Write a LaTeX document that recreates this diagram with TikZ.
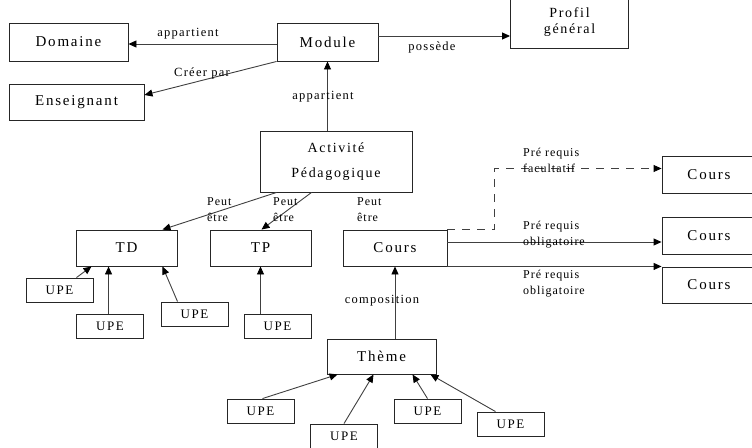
\documentclass[tikz,border=0pt]{standalone}
\usepackage{fontspec}
\usetikzlibrary{arrows.meta}
\newfontfamily\boxfont[LetterSpace=12]{Liberation Serif}
\newfontfamily\lblfont[LetterSpace=10]{Liberation Serif}
\newfontfamily\smlfont[LetterSpace=8]{Liberation Serif}
\tikzset{
  bx/.style={draw=black!85, line width=0.9pt, inner sep=0pt, font=\boxfont\fontsize{15}{17}\selectfont, text=black},
  upe/.style={bx, minimum width=67pt, minimum height=24pt, font=\boxfont\fontsize{13}{15}\selectfont},
  arr/.style={draw=black!75, line width=0.9pt, -{Triangle[length=8pt,width=7pt,fill=black,color=black]}},
  lbl/.style={font=\lblfont\fontsize{12.5}{14}\selectfont, text=black, inner sep=0pt},
  sml/.style={font=\smlfont\fontsize{12}{16}\selectfont, text=black, inner sep=0pt, align=left, anchor=west},
}
\begin{document}
\begin{tikzpicture}[x=1pt,y=-1pt]
\useasboundingbox (0,0) rectangle (752,447);
% boxes
\node[bx, minimum width=119pt, minimum height=38pt] (Domaine) at (68.5,42) {Domaine};
\node[bx, minimum width=101pt, minimum height=38pt] (Module) at (327.5,42) {Module};
\node[bx, minimum width=135pt, minimum height=36pt] (Ens) at (76.5,102) {Enseignant};
\node[bx, minimum width=118pt, minimum height=52pt, align=center, font=\boxfont\fontsize{14}{16}\selectfont] (Profil) at (569.5,22) {Profil\\général};
\node[bx, minimum width=152pt, minimum height=61pt, align=center, font=\boxfont\fontsize{14}{25}\selectfont] (Act) at (336,161.5) {Activité\\Pédagogique};
\node[bx, minimum width=101pt, minimum height=36pt] (TD) at (126.5,248) {TD};
\node[bx, minimum width=101pt, minimum height=36pt] (TP) at (260.5,248) {TP};
\node[bx, minimum width=104pt, minimum height=36pt] (CoursM) at (395,248) {Cours};
\node[bx, minimum width=100pt, minimum height=37pt] (C1) at (712,174.5) {\hspace{-6pt}Cours\hspace{6pt}};
\node[bx, minimum width=100pt, minimum height=37pt] (C2) at (712,235.5) {\hspace{-6pt}Cours\hspace{6pt}};
\node[bx, minimum width=100pt, minimum height=36pt] (C3) at (712,285) {\hspace{-6pt}Cours\hspace{6pt}};
\node[bx, minimum width=109pt, minimum height=35pt] (Theme) at (381.5,356.5) {Thème};
\node[upe] (U1) at (59.5,290) {UPE\hspace{8pt}};
\node[upe] (U2) at (110,326) {UPE\hspace{8pt}};
\node[upe] (U3) at (194.5,314) {UPE\hspace{8pt}};
\node[upe] (U4) at (277.5,326) {UPE\hspace{8pt}};
\node[upe] (U5) at (260.5,411) {UPE\hspace{8pt}};
\node[upe] (U6) at (344,436) {UPE\hspace{8pt}};
\node[upe] (U7) at (427.5,411) {UPE\hspace{8pt}};
\node[upe] (U8) at (510.5,424) {UPE\hspace{8pt}};
% connectors
\draw[arr] ([yshift=-2pt]Module.west) -- ([yshift=-2pt]Domaine.east);
\draw[arr] (Module.south west) -- ([yshift=7pt]Ens.east);
\draw[arr] ([yshift=6pt]Module.east) -- ([yshift=6pt]Module.east -| Profil.west);
\draw[arr] (Act.north -| Module.south) -- (Module.south);
\draw[arr] ([xshift=17pt]Act.south west) -- ([xshift=36pt]TD.north);
\draw[arr] ([xshift=52pt]Act.south west) -- ([xshift=1pt]TP.north);
\draw[arr, dash pattern=on 8pt off 7pt] (CoursM.north east) -- ++(47,0) |- ([yshift=6pt]C1.west);
\draw[arr] ([yshift=6pt]CoursM.east) -- ([yshift=6pt]CoursM.east -| C2.west);
\draw[arr] (CoursM.south east) -- (CoursM.south east -| C3.west);
\draw[arr] ([xshift=17pt]U1.north) -- ([xshift=-35pt]TD.south);
\draw[arr] (U2.north -| TD.south west) ++(33,0) coordinate (u2t) -- (u2t |- TD.south);
\draw[arr] ([xshift=-17pt]U3.north) -- ([xshift=36pt]TD.south);
\draw[arr] (TP.south |- U4.north) -- (TP.south);
\draw[arr] (Theme.north -| CoursM.south) -- (CoursM.south);
\draw[arr] ([xshift=2pt]U5.north) -- ([xshift=11pt]Theme.south west);
\draw[arr] (U6.north) -- ([xshift=47pt]Theme.south west);
\draw[arr] (U7.north) -- ([xshift=86pt]Theme.south west);
\draw[arr] ([xshift=-15pt]U8.north) -- ([xshift=-6pt]Theme.south east);
% labels
\node[lbl] (l1) at (188,34) {appartient};
\node[lbl] (l2) at (202,73) {Créer par};
\node[lbl] (l3) at (432,47) {possède};
\node[lbl] (l4) at (323,97) {appartient};
\node[lbl] (l5) at (382,301) {composition};
\node[sml] (p1) at (207,210) {Peut\\être};
\node[sml] (p2) at (273,210) {Peut\\être};
\node[sml] (p3) at (357,210) {Peut\\être};
\node[sml] (r1) at (523,160.5) {Pré requis\\facultatif};
\node[sml] (r2) at (523,234.5) {Pré requis\\obligatoire};
\node[sml] (r3) at (523,284) {Pré requis\\obligatoire};
\end{tikzpicture}
\end{document}
